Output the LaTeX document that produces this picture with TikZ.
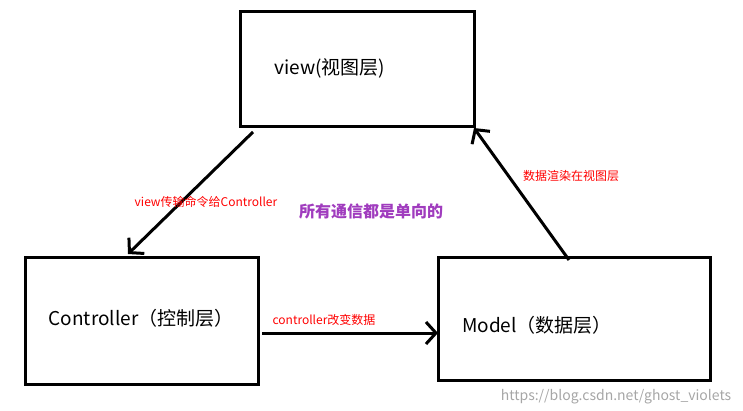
\documentclass[tikz,border=0pt]{standalone}
\usepackage{fontspec}
\setmainfont{Noto Sans CJK SC}
\usetikzlibrary{arrows.meta}
\begin{document}
\begin{tikzpicture}[x=1pt,y=-1pt,
 box/.style={draw,line width=3pt},
 conn/.style={line width=3pt,-{Straight Barb[length=10pt,width=22pt,line width=3pt]}},
 red/.style={text=red,font=\fontsize{12}{14}\selectfont},
 big/.style={font=\fontsize{19}{22}\selectfont}]
\useasboundingbox (0,0) rectangle (743,411);
\draw[box] (240,12) rectangle (474,127);
\draw[box] (25,258) rectangle (258,384);
\draw[box] (438,258) rectangle (710,380);
\coordinate (v1) at (253,132); \coordinate (c1) at (128,254);
\coordinate (m1) at (569,260); \coordinate (v2) at (474,128);
\coordinate (c2) at (262,333); \coordinate (m2) at (438,333);
\draw[conn] (v1) -- (c1);
\draw[conn] (m1) -- (v2);
\draw[conn] (c2) -- (m2);
\node[big] (tv) at (330,68) {view(视图层)};
\node[big] (tc) at (141,318) {Controller（控制层）};
\node[big] (tm) at (537,325) {Model（数据层）};
\node[red] (l1) at (206,202) {view传输命令给Controller};
\node[red] (l2) at (571,176) {数据渲染在视图层};
\node[red] (l3) at (324,320) {controller改变数据};
\node[text={rgb,255:red,160;green,60;blue,190},font=\bfseries\fontsize{16}{18}\selectfont] (l4) at (371,211) {所有通信都是单向的};
\node[text=gray!70,font=\fontsize{14}{16}\selectfont] (wm) at (616,397) {https://blog.csdn.net/ghost\_violets};
\end{tikzpicture}
\end{document}
